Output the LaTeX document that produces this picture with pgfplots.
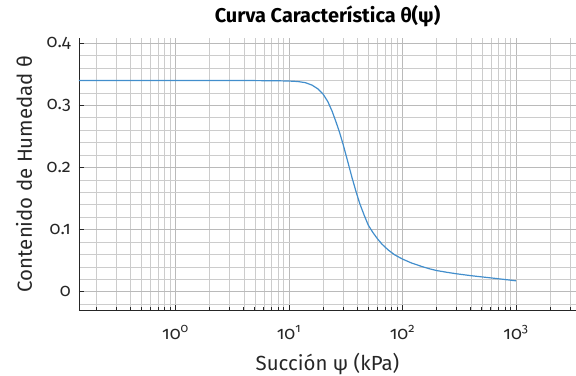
\documentclass[border=0pt]{standalone}
\usepackage{fontspec}
\setmainfont{Fira Sans}[Numbers=OldStyle]
\usepackage{pgfplots}
\pgfplotsset{compat=1.18}
\definecolor{curveblue}{RGB}{66,142,204}
\definecolor{axisdark}{RGB}{38,38,38}

% Retention curve: suction (kPa) vs volumetric water content
\pgfplotstableread{
psi theta
0.1412 0.3400
1 0.3400
5 0.3399
8 0.3396
10 0.3392
12 0.3384
14 0.3365
16 0.3325
18 0.3265
20 0.3180
22 0.3060
24 0.2905
26 0.2730
28 0.2555
30 0.2370
33 0.2090
36 0.1830
39 0.1610
42 0.1420
46 0.1230
50 0.1070
55 0.0950
60 0.0855
66 0.0765
75 0.0670
85 0.0595
100 0.0525
120 0.0462
150 0.0402
175 0.0366
200 0.0340
250 0.0310
300 0.0288
400 0.0258
500 0.0238
600 0.0222
700 0.0208
800 0.0196
900 0.0185
1000 0.0175
}\retention

\begin{document}
\begin{tikzpicture}
\begin{axis}[
  at={(0,0)}, anchor=south west,
  scale only axis, width=497bp, height=272bp,
  xmode=log, log basis x=10,
  xmin=0.1412, xmax=3379, ymin=-0.0295, ymax=0.4085,
  axis x line*=bottom, axis y line*=left,
  axis line style={axisdark, line width=0.8bp},
  tick align=inside,
  tick style={axisdark, line width=0.7bp},
  major tick length=5bp, minor tick length=3bp,
  xtick={1,10,100,1000},
  xticklabels={10\textsuperscript{0},10\textsuperscript{1},10\textsuperscript{2},10\textsuperscript{3}},
  minor xtick={0.2,0.3,0.4,0.5,0.6,0.7,0.8,0.9,2,3,4,5,6,7,8,9,20,30,40,50,60,70,80,90,200,300,400,500,600,700,800,900,2000,3000},
  ytick={0,0.1,0.2,0.3,0.4},
  yticklabels={0,0.1,0.2,0.3,0.4},
  minor ytick={-0.02,0.02,0.04,0.06,0.08,0.12,0.14,0.16,0.18,0.22,0.24,0.26,0.28,0.32,0.34,0.36,0.38},
  minor y tick style={draw=none},
  grid=both,
  major grid style={black!27, line width=0.6bp},
  minor grid style={black!20, line width=0.6bp},
  ticklabel style={font=\fontsize{18}{20}\selectfont, text=axisdark},
  xticklabel style={anchor=base, yshift=-29bp},
  yticklabel style={anchor=east, inner sep=0pt, xshift=-8bp},
  title={Curva Característica θ(ψ)},
  title style={font=\bfseries\fontsize{20}{24}\selectfont, at={(axis description cs:0.5,1.0368)}, anchor=base},
  xlabel={Succión ψ (kPa)},
  xlabel style={font=\fontsize{20.5}{24}\selectfont, text=axisdark, at={(axis description cs:0.5,-0.2206)}, anchor=base},
  ylabel={Contenido de Humedad θ},
  ylabel style={font=\fontsize{20.5}{24}\selectfont, text=axisdark, at={(axis description cs:-0.0946,0.5)}, anchor=base},
]
\addplot[curveblue, line width=1.2bp] table[x=psi, y=theta] {\retention};
\end{axis}
\pgfresetboundingbox
\path[use as bounding box] (-79bp,-66bp) rectangle (497bp,310bp);
\end{tikzpicture}
\end{document}
